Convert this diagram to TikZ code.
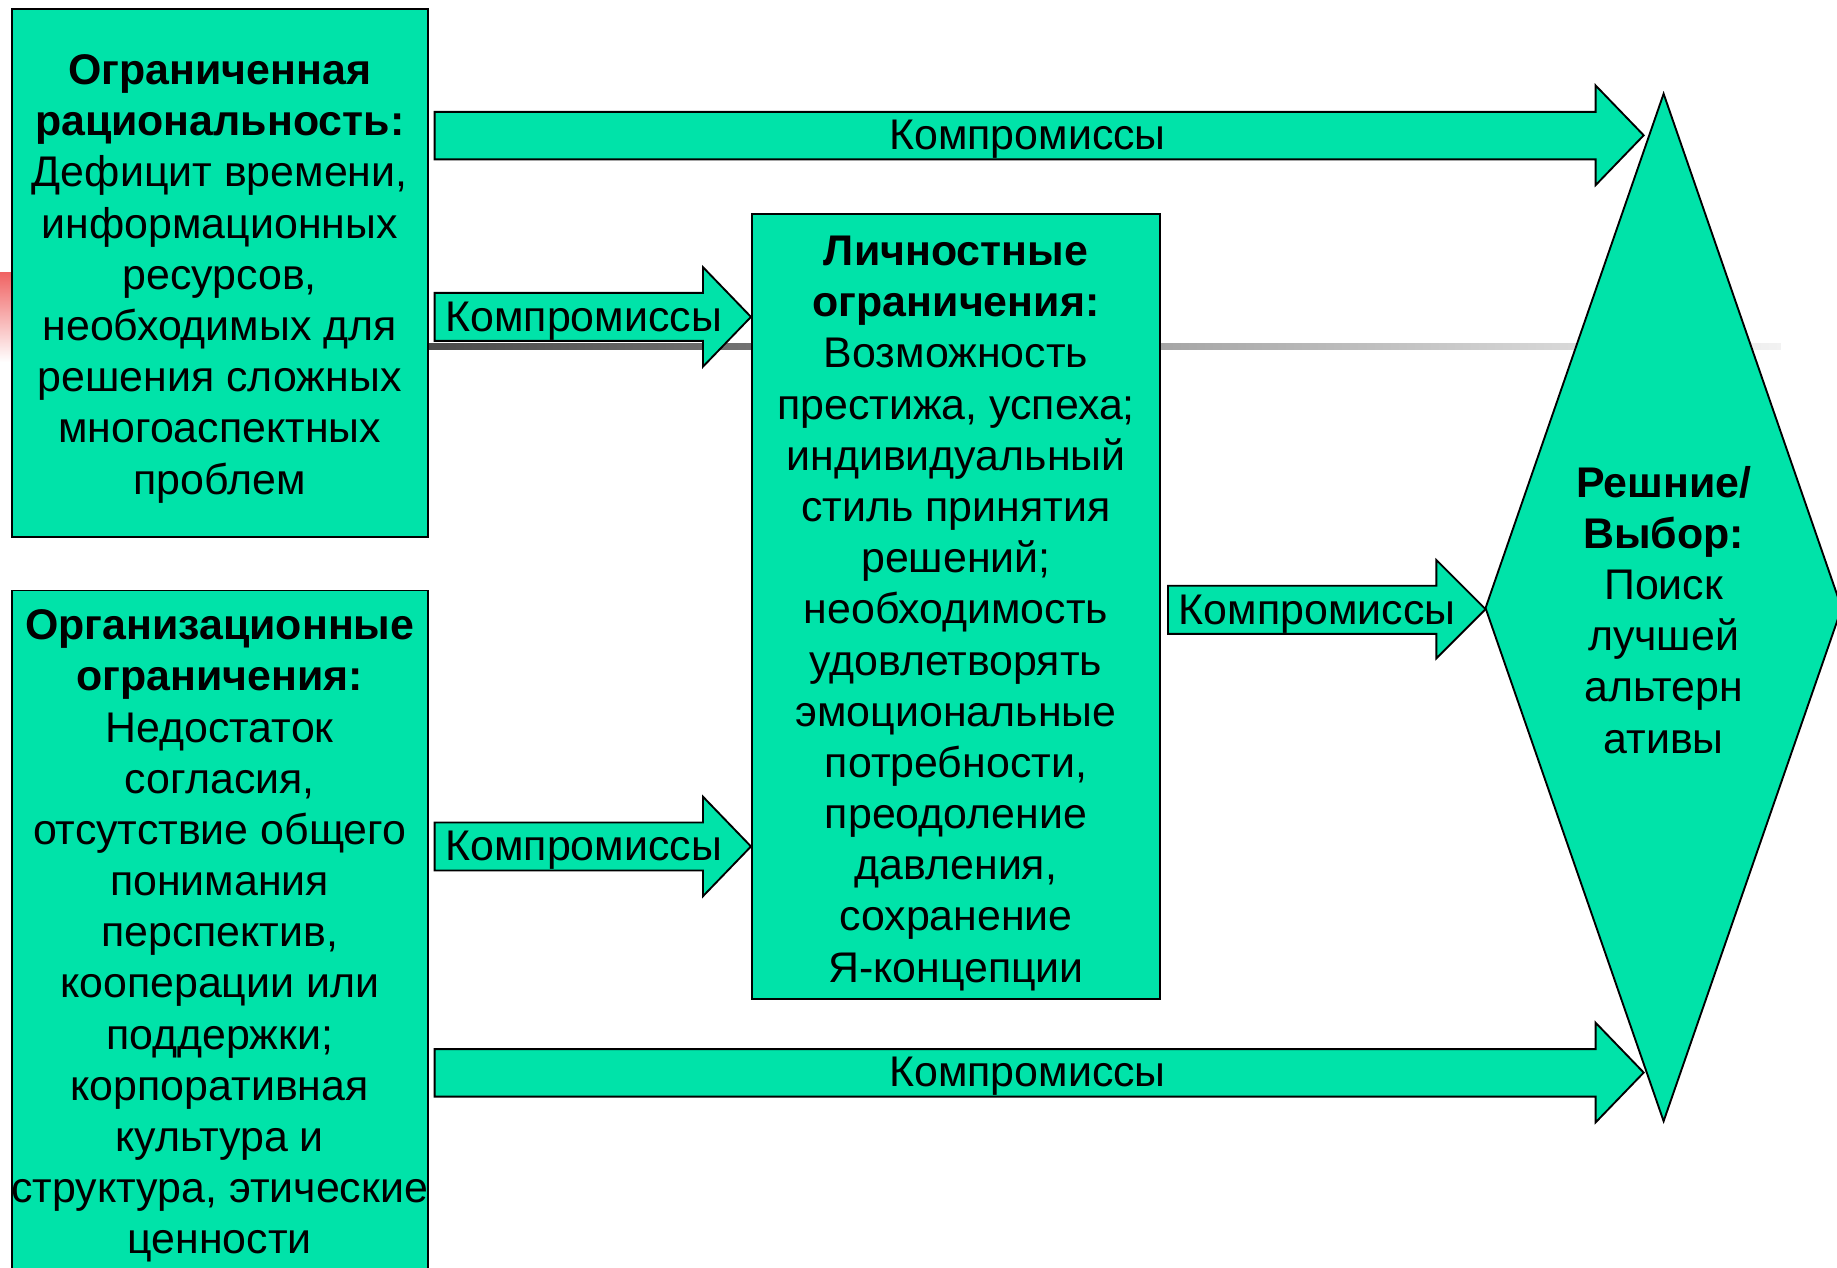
\documentclass[tikz,border=0pt]{standalone}
\usepackage{fontspec}
\setmainfont{Liberation Sans}
\begin{document}
\begin{tikzpicture}[x=1pt,y=-1pt,
  fillgreen/.style={fill=boxgreen,draw=black,line width=1.6pt,line join=miter},
  txt/.style={align=center,inner sep=0pt,font=\fontsize{36.6}{43.7}\selectfont},
  lbl/.style={inner sep=0pt,font=\fontsize{36.6}{43.7}\selectfont}]
\definecolor{boxgreen}{HTML}{00E3A9}
\definecolor{redfade}{HTML}{F06464}
\useasboundingbox (0,0) rectangle (1568,1082);
\clip (0,0) rectangle (1568,1082);
% background decorations
\shade[top color=redfade,bottom color=white] (0,233) rectangle (10,309);
\shade[left color={rgb,255:red,74;green,74;blue,74},right color={rgb,255:red,242;green,242;blue,242}] (365,293) rectangle (1520,298);
% boxes
\draw[fillgreen] (10,8) rectangle (365,458);
\node[txt] (box1) at (187.5,238) {\textbf{Ограниченная}\\\textbf{рациональность:}\\Дефицит времени,\\информационных\\ресурсов,\\необходимых для\\решения сложных\\многоаспектных\\проблем};
\draw[fillgreen] (10,504) rectangle (365,1095);
\node[txt] (box2) at (187.5,799) {\textbf{Организационные}\\\textbf{ограничения:}\\Недостаток\\согласия,\\отсутствие общего\\понимания\\перспектив,\\кооперации или\\поддержки;\\корпоративная\\культура и\\структура, этические\\ценности};
\draw[fillgreen] (642,183) rectangle (990,853);
\node[txt] (mid) at (816,523.5) {\textbf{Личностные}\\\textbf{ограничения:}\\Возможность\\престижа, успеха;\\индивидуальный\\стиль принятия\\решений;\\необходимость\\удовлетворять\\эмоциональные\\потребности,\\преодоление\\давления,\\сохранение\\Я-концепции};
% diamond
\draw[fillgreen] (1420,80) -- (1572,519) -- (1420,957) -- (1268,519) -- cycle;
\node[txt] (dec) at (1420,520.5) {\textbf{Решние/}\\\textbf{Выбор:}\\Поиск\\лучшей\\альтерн\\ативы};
% block arrows
\draw[fillgreen] (371,95.5) -- (1362,95.5) -- (1362,73) -- (1403,115.5) -- (1362,158) -- (1362,136) -- (371,136) -- cycle;
\node[lbl] (a1) at (877,119) {Компромиссы};
\draw[fillgreen] (371,895.5) -- (1362,895.5) -- (1362,873) -- (1403,915.5) -- (1362,958) -- (1362,936) -- (371,936) -- cycle;
\node[lbl] (a5) at (877,919) {Компромиссы};
\draw[fillgreen] (371,250) -- (600,250) -- (600,228) -- (641,270.5) -- (600,313) -- (600,291) -- (371,291) -- cycle;
\node[lbl,anchor=west] (a2) at (380,274) {Компромиссы};
\draw[fillgreen] (371,702) -- (600,702) -- (600,680) -- (641,722.5) -- (600,765) -- (600,743) -- (371,743) -- cycle;
\node[lbl,anchor=west] (a3) at (380,726) {Компромиссы};
\draw[fillgreen] (997,500) -- (1226,500) -- (1226,478) -- (1268,520) -- (1226,562) -- (1226,541) -- (997,541) -- cycle;
\node[lbl,anchor=west] (a4) at (1006,524) {Компромиссы};
\end{tikzpicture}
\end{document}
